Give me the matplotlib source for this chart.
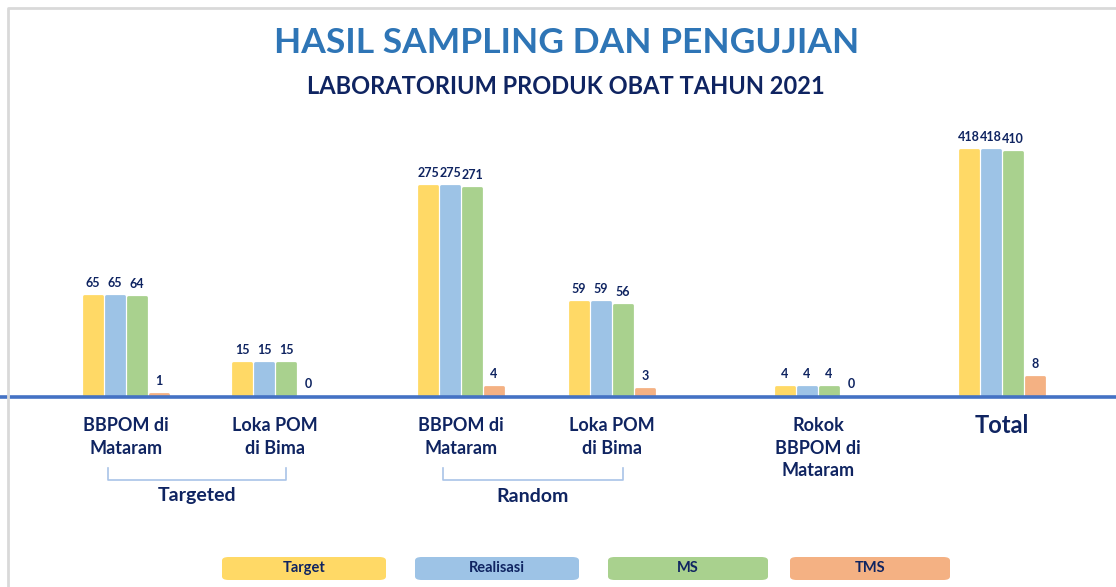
import numpy as np
import matplotlib
matplotlib.use('Agg')
import matplotlib.pyplot as plt
import matplotlib.transforms as mtransforms
from matplotlib.patches import FancyBboxPatch

# data
categories = ['BBPOM di\nMataram', 'Loka POM\ndi Bima', 'BBPOM di\nMataram',
              'Loka POM\ndi Bima', 'Rokok\nBBPOM di\nMataram', 'Total']
groups = ['Targeted', 'Random']
series = ['Target', 'Realisasi', 'MS', 'TMS']
target = [65, 15, 275, 59, 4, 418]
realisasi = [65, 15, 275, 59, 4, 418]
ms = [64, 15, 271, 56, 4, 410]
tms = [1, 0, 4, 3, 0, 8]

colors = ['#FFD966', '#9DC3E6', '#A9D18E', '#F4B183']
navy = '#0F2461'
W, H = 1116, 587

plt.rcParams['font.family'] = ['Lato', 'DejaVu Sans']
fig = plt.figure(figsize=(W / 100, H / 100), dpi=100)

# axes spans full width, x in pixel units; baseline at y=397px
# the original bars are compressed, roughly log(1 + v/35)
ax = fig.add_axes([0, (H - 397) / H, 1, 0.5])
ax.set_xlim(0, W)
ax.set_yscale('function', functions=(lambda v: np.log1p(np.clip(v, 0, None) / 35),
                                     lambda u: 35 * np.expm1(u)))
ax.set_ylim(0, 697)
ax.axis('off')

pos = np.array([126, 275, 461, 612, 818, 1002])
offsets = [-33, -11, 11, 33]
for vals, col, off in zip([target, realisasi, ms, tms], colors, offsets):
    bars = ax.bar(pos + off, vals, width=18, color=col, edgecolor=col,
                  linewidth=2, joinstyle='round', zorder=2)
    for b, v in zip(bars, vals):
        ax.annotate(str(v), (b.get_x() + b.get_width() / 2, v), xytext=(0, 5),
                    textcoords='offset points', ha='center', va='bottom',
                    fontsize=9, fontweight='bold', color=navy)

ax.axhline(0, color='#4472C4', lw=2.6, zorder=3, clip_on=False)

# category labels under the baseline
tr = mtransforms.blended_transform_factory(ax.transData, fig.transFigure)
for x, lab in zip(pos, categories):
    if lab == 'Total':
        ax.text(x, 1 - 414 / H, lab, transform=tr, ha='center', va='top',
                fontsize=17, fontweight='bold', color=navy)
    else:
        ax.text(x, 1 - 417 / H, lab, transform=tr, ha='center', va='top',
                fontsize=13, fontweight='bold', color=navy, linespacing=1.4)

# brackets for Targeted / Random
for (i, j), name in zip([(0, 1), (2, 3)], groups):
    x0, x1 = pos[i] - 18, pos[j] + 11
    ax.plot([x0, x0, x1, x1], [1 - 468 / H, 1 - 480 / H, 1 - 480 / H, 1 - 468 / H],
            transform=tr, color='#A9C4E8', lw=1.2, clip_on=False)
    ax.text((x0 + x1) / 2, 1 - 496 / H, name, transform=tr, ha='center', va='center',
            fontsize=14, fontweight='bold', color=navy)

# titles
fig.text(567 / W, 1 - 43 / H, 'HASIL SAMPLING DAN PENGUJIAN', ha='center', va='center',
         fontsize=25.5, fontweight='bold', color='#2E75B6')
fig.text(566 / W, 1 - 86 / H, 'LABORATORIUM PRODUK OBAT TAHUN 2021', ha='center', va='center',
         fontsize=17, fontweight='bold', color=navy)

# legend boxes
leg_x = [(222, 386), (415, 579), (608, 768), (790, 950)]
for (x0, x1), col, name in zip(leg_x, colors, series):
    fig.patches.append(FancyBboxPatch((x0 / W, 1 - 580 / H), (x1 - x0) / W, 23 / H,
                                      boxstyle='round,pad=0,rounding_size=0.006',
                                      transform=fig.transFigure, facecolor=col,
                                      edgecolor='none'))
    fig.text((x0 + x1) / 2 / W, 1 - 568 / H, name, ha='center', va='center',
             fontsize=10.5, fontweight='bold', color=navy)

# thin frame on top and left
fig.add_artist(plt.Line2D([8 / W, 8 / W, 1], [0, 1 - 8 / H, 1 - 8 / H],
                          transform=fig.transFigure, color='#D9D9D9', lw=2))

fig.savefig('out.png', dpi=100)
